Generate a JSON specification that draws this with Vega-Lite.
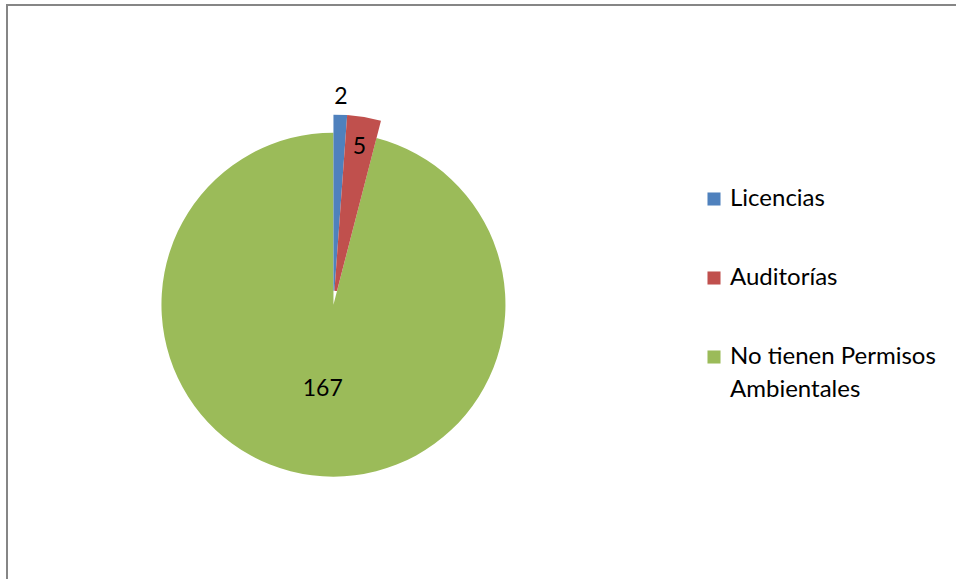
{
  "$schema": "https://vega.github.io/schema/vega-lite/v6.json",
  "autosize": "none",
  "padding": {"left": 7, "top": 5, "right": 0, "bottom": 0},
  "width": 949,
  "height": 574,
  "background": "white",
  "view": {"stroke": "#868686", "strokeWidth": 2, "fill": "white", "strokeDash": [949, 1523, 574]},
  "config": {
    "font": "Lato"
  },
  "data": {
    "values": [
      {"categoria": "Licencias", "valor": 2},
      {"categoria": "Auditorías", "valor": 5},
      {"categoria": "No tienen Permisos Ambientales", "valor": 167}
    ]
  },
  "transform": [
    {"window": [{"op": "sum", "field": "valor", "as": "fin"}], "frame": [null, 0]},
    {"calculate": "datum.fin - datum.valor", "as": "inicio"},
    {"calculate": "datum.inicio + datum.valor / 2", "as": "medio"}
  ],
  "layer": [
    {
      "transform": [{"filter": "datum.categoria === 'No tienen Permisos Ambientales'"}],
      "mark": {"type": "arc", "radius": 172, "x": {"expr": "width * 0.344"}, "y": {"expr": "height * 0.522"}},
      "encoding": {
        "theta": {"field": "fin", "type": "quantitative", "stack": null},
        "theta2": {"field": "inicio"},
        "color": {
          "field": "categoria",
          "type": "nominal",
          "scale": {
            "domain": ["Licencias", "Auditorías", "No tienen Permisos Ambientales"],
            "range": ["#4F81BD", "#C0504D", "#9BBB59"]
          },
          "legend": {
            "orient": "none",
            "legendX": 695,
            "legendY": 182,
            "title": null,
            "symbolType": "square",
            "symbolSize": 170,
            "symbolStrokeWidth": 0,
            "labelFontSize": 24,
            "labelFont": "Lato",
            "labelColor": "#000000",
            "labelLimit": 400,
            "labelOffset": 4,
            "rowPadding": 55,
            "labelExpr": "datum.label === 'No tienen Permisos Ambientales' ? ['No tienen Permisos', 'Ambientales'] : datum.label",
            "encode": {"labels": {"update": {"lineHeight": {"value": 33}}}}
          }
        }
      }
    },
    {
      "transform": [{"filter": "datum.categoria !== 'No tienen Permisos Ambientales'"}],
      "mark": {"type": "arc", "radius": 190, "radius2": 14, "x": {"expr": "width * 0.344"}, "y": {"expr": "height * 0.522"}},
      "encoding": {
        "theta": {"field": "fin", "type": "quantitative", "stack": null},
        "theta2": {"field": "inicio"},
        "color": {"field": "categoria", "type": "nominal"}
      }
    },
    {
      "transform": [{"filter": "datum.categoria === 'Licencias'"}],
      "mark": {"type": "text", "radius": 208, "fontSize": 23, "color": "#000000", "x": {"expr": "width * 0.344"}, "y": {"expr": "height * 0.522"}},
      "encoding": {
        "theta": {"field": "medio", "type": "quantitative", "stack": null},
        "text": {"field": "valor", "type": "quantitative"}
      }
    },
    {
      "transform": [{"filter": "datum.categoria === 'Auditorías'"}],
      "mark": {"type": "text", "radius": 160, "fontSize": 23, "color": "#000000", "x": {"expr": "width * 0.344"}, "y": {"expr": "height * 0.522"}},
      "encoding": {
        "theta": {"field": "medio", "type": "quantitative", "stack": null},
        "text": {"field": "valor", "type": "quantitative"}
      }
    },
    {
      "transform": [{"filter": "datum.categoria === 'No tienen Permisos Ambientales'"}],
      "mark": {"type": "text", "radius": 85, "fontSize": 23, "color": "#000000", "x": {"expr": "width * 0.344"}, "y": {"expr": "height * 0.522"}},
      "encoding": {
        "theta": {"field": "medio", "type": "quantitative", "stack": null},
        "text": {"field": "valor", "type": "quantitative"}
      }
    }
  ]
}
